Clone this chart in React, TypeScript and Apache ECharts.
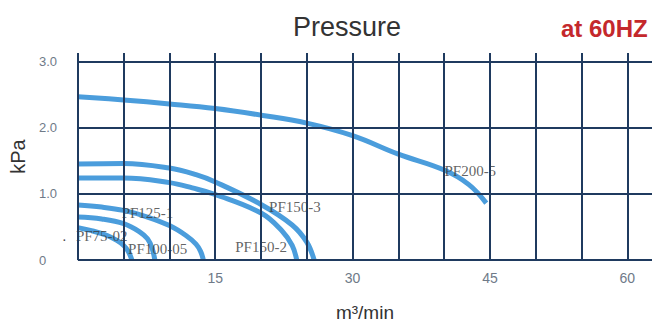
import React, { useEffect, useRef } from "react";
import * as echarts from "echarts";

// Axis ticks (data units)
const xGridValues = [0, 5, 10, 15, 20, 25, 30, 35, 40, 45, 50, 55, 60];
const xTickLabels = [15, 30, 45, 60];
const yGridValues = [0, 1, 2, 3];
const yTickLabels: Record<number, string> = { 0: "0", 1: "1.0", 2: "2.0", 3: "3.0" };

// Pump curves: [flow m3/min, pressure kPa]
const pf75_02 = [[0, 0.49], [1.6, 0.44], [3.2, 0.37], [4.2, 0.3], [5, 0.22], [5.5, 0.13], [5.9, 0]];
const pf100_05 = [[0, 0.65], [2.6, 0.62], [5, 0.55], [6.7, 0.43], [7.6, 0.32], [8.1, 0.18], [8.4, 0]];
const pf125_1 = [[0, 0.83], [2.6, 0.8], [5, 0.75], [7.6, 0.65], [10, 0.52], [11.8, 0.37], [12.9, 0.24], [13.4, 0.13], [13.7, 0]];
const pf150_2 = [[0, 1.24], [5, 1.24], [10, 1.17], [12.5, 1.09], [15, 0.99], [20, 0.71], [22.3, 0.44], [23.4, 0.22], [23.9, 0]];
const pf150_3 = [[0, 1.45], [5, 1.46], [10, 1.39], [12.9, 1.29], [15, 1.18], [20, 0.84], [23.4, 0.53], [25, 0.27], [25.8, 0]];
const pf200_5 = [[0, 2.47], [5, 2.42], [10, 2.36], [15, 2.29], [20, 2.19], [25, 2.07], [30, 1.88], [35, 1.6], [40, 1.36], [42.7, 1.14], [44.6, 0.86]];

const curveNames = ["PF75-02", "PF100-05", "PF125-1", "PF150-2", "PF150-3", "PF200-5"];
const curveData = [pf75_02, pf100_05, pf125_1, pf150_2, pf150_3, pf200_5];

// Curve name labels anchored in data space [x, y]
const labelAnchors: [number, number][] = [[0, 0.37], [5.7, 0.17], [5, 0.71], [17.4, 0.19], [21.1, 0.8], [40.25, 1.35]];

export default function App() {
  const ref = useRef<HTMLDivElement>(null);
  useEffect(() => {
    document.body.style.margin = "0";
    if (!ref.current) return;
    const chart = echarts.init(ref.current, null, { renderer: "svg" });
    const gridColor = "#1f3a5f";
    const curveColor = "#4b9ddc";
    chart.setOption({
      animation: false,
      title: [
        {
          text: "Pressure",
          left: 293,
          top: 13,
          padding: 0,
          textStyle: { fontFamily: "Liberation Sans, Arial", fontSize: 27, fontWeight: "normal", color: "#333333" },
        },
        {
          text: "at 60HZ",
          left: 561,
          top: 16,
          padding: 0,
          textStyle: { fontFamily: "Liberation Sans, Arial", fontSize: 24, fontWeight: "bold", color: "#c4282c" },
        },
      ],
      grid: { left: 74, right: 14, top: 53, bottom: 62 },
      xAxis: {
        type: "value",
        min: 0,
        max: 62.7,
        interval: 5,
        axisLine: { show: false },
        axisTick: { show: false },
        splitLine: { show: false },
        axisLabel: {
          margin: 11,
          fontSize: 14,
          color: "#6f7a88",
          fontFamily: "Liberation Sans, Arial",
          showMaxLabel: false,
          formatter: (v: number) => (xTickLabels.includes(v) ? String(v) : ""),
        },
        name: "m\u00b3/min",
        nameLocation: "middle",
        nameGap: 43,
        nameTextStyle: { fontSize: 19, color: "#333333", fontFamily: "Liberation Sans, Arial" },
      },
      yAxis: {
        type: "value",
        min: 0,
        max: 3.13,
        interval: 1,
        axisLine: { show: false },
        axisTick: { show: false },
        splitLine: { show: false },
        axisLabel: {
          margin: 39,
          align: "left",
          fontSize: 13,
          color: "#6f7a88",
          fontFamily: "Liberation Sans, Arial",
          showMaxLabel: false,
          formatter: (v: number) => yTickLabels[v] ?? "",
        },
        name: "kPa",
        nameLocation: "middle",
        nameRotate: 90,
        nameGap: 46,
        nameTextStyle: { fontSize: 20, color: "#333333", fontFamily: "Liberation Sans, Arial" },
      },
      graphic: [
        {
          type: "text",
          left: 62,
          top: 233,
          style: { text: "\u00b7", fontSize: 14, fill: "#444444", fontFamily: "Liberation Serif" },
        },
      ],
      series: [
        {
          type: "line",
          data: [],
          z: 1,
          silent: true,
          markLine: {
            silent: true,
            symbol: "none",
            label: { show: false },
            emphasis: { disabled: true },
            lineStyle: { color: gridColor, width: 2, type: "solid" },
            data: [
              ...xGridValues.map((v) => ({ xAxis: v })),
              ...yGridValues.map((v) => ({ yAxis: v })),
            ],
          },
        },
        ...curveData.map((d, i) => ({
          type: "line",
          name: curveNames[i],
          data: d,
          z: 2,
          smooth: 0.4,
          showSymbol: false,
          silent: true,
          lineStyle: { color: curveColor, width: 5 },
          emphasis: { disabled: true },
        })),
        {
          type: "scatter",
          z: 3,
          silent: true,
          symbolSize: 0,
          data: labelAnchors.map((p, i) => ({ value: p, name: curveNames[i] })),
          label: {
            show: true,
            position: "right",
            distance: 0,
            offset: [-2, 0],
            formatter: (p: any) => p.name,
            fontFamily: "Liberation Serif, Times New Roman",
            fontSize: 15,
            color: "#3a3a3a",
          },
          emphasis: { disabled: true },
        },
      ],
    });
    return () => chart.dispose();
  }, []);
  return <div ref={ref} style={{ width: 666, height: 327 }} />;
}
